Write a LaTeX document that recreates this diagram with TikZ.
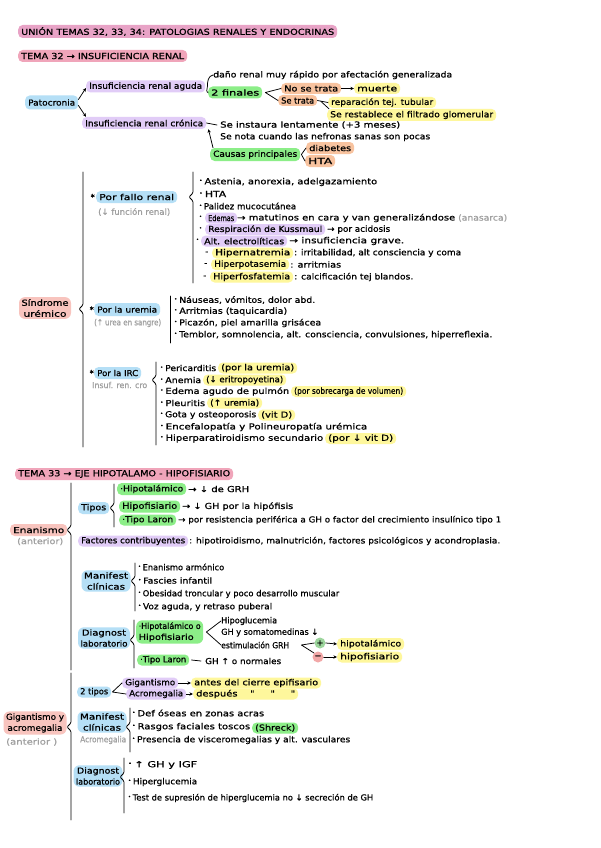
\documentclass[tikz,border=0pt]{standalone}
\usepackage{fontspec}
\usepackage{graphicx}
\usetikzlibrary{arrows.meta}
\newfontfamily\handf{DejaVu Sans}[FakeBold=0.8]
\newcommand\hfs{\handf\fontsize{8.3}{11}\selectfont}
\newlength\fitlen
\newcommand\fitx[2]{\settowidth\fitlen{#2}\pgfmathsetmacro\fitfac{#1/\fitlen}\scalebox{\fitfac}[1]{#2}}
\newcommand\bul{\raisebox{2.3pt}{\fontsize{4.5}{5}\selectfont •}\hspace{1.8pt}}
\newcommand\brc[4]{\draw[ln,rounded corners=1.2pt] (#1,#2) -- (#1,#3-4) -- (#1-4,#3) -- (#1,#3+4) -- (#1,#4);}
\definecolor{pkA}{HTML}{E8A3C6}
\definecolor{pkB}{HTML}{F0A5BA}
\definecolor{bl}{HTML}{B5DFF6}
\definecolor{pu}{HTML}{E1CCF7}
\definecolor{gr}{HTML}{8CEE88}
\definecolor{or}{HTML}{F8C39F}
\definecolor{ye}{HTML}{FEF79C}
\definecolor{sa}{HTML}{F8C4BE}
\definecolor{grayt}{HTML}{A0A0A0}
\definecolor{gcirc}{HTML}{9CD59C}
\definecolor{rcirc}{HTML}{F2A8A8}
\begin{document}
\begin{tikzpicture}[x=1pt,y=-1pt,
  tx/.style={anchor=west,inner sep=0pt,font=\hfs},
  gtx/.style={tx,text=grayt},
  hb/.style={anchor=west,fill=#1,rounded corners=4.5pt,inner xsep=3pt,inner ysep=0pt,minimum height=11pt,font=\hfs},
  hb2/.style={fill=#1,rounded corners=6pt,inner xsep=2.5pt,inner ysep=2pt,align=center,font=\hfs},
  ln/.style={line width=0.75pt,line cap=round,line join=round},
  arr/.style={ln,-{Stealth[length=3.6pt,width=3.4pt]}},
  circ/.style={circle,fill=#1,inner sep=0pt,minimum size=11pt,font=\hfs},
]
\useasboundingbox[fill=white] (0,0) rectangle (600,848);

% ---------- titles
\node[hb=pkA,minimum height=13pt] (t1) at (18,31.5) {\fitx{313}{UNIÓN TEMAS 32, 33, 34: PATOLOGIAS RENALES Y ENDOCRINAS}};
\node[hb=pkB,minimum height=12pt] (t2) at (18,56) {\fitx{163}{TEMA 32 → INSUFICIENCIA RENAL}};

% ---------- Insuficiencia renal
\node[hb=bl,minimum height=14pt] (pat) at (25,102.5) {\fitx{47}{Patocronia}};
\node[hb=pu,minimum height=12pt] (ira) at (86,86.5) {\fitx{113}{Insuficiencia renal aguda}};
\node[hb=pu,minimum height=12pt] (irc) at (82,123) {\fitx{118}{Insuficiencia renal crónica}};
\node[tx] (dano) at (213,75) {\fitx{239}{daño renal muy rápido por afectación generalizada}};
\node[hb=gr,minimum height=12pt] (dos) at (208,92.5) {\fitx{48}{2 finales}};
\node[hb=or] (nt) at (281,88.5) {\fitx{54}{No se trata}};
\node[hb=ye] (mu) at (354,88.5) {\fitx{40}{muerte}};
\node[hb=or] (st) at (278,100.5) {\fitx{33}{Se trata}};
\node[hb=ye] (rep) at (328,102.5) {\fitx{102}{reparación tej. tubular}};
\node[hb=ye,minimum height=12pt] (res) at (327,115) {\fitx{163}{Se restablece el filtrado glomerular}};
\node[tx] (inst) at (220,125) {\fitx{180}{Se instaura lentamente (+3 meses)}};
\node[tx] (nota) at (220,137) {\fitx{210}{Se nota cuando las nefronas sanas son pocas}};
\node[hb=gr,minimum height=13pt] (causas) at (210,154.5) {\fitx{84}{Causas principales}};
\node[hb=or,minimum height=12pt] (dia) at (306,148) {\fitx{42}{diabetes}};
\node[hb=or,minimum height=12pt] (hta) at (305,161) {\fitx{24}{HTA}};
\coordinate (stj) at (321,101.5);

\draw[arr] ([yshift=3pt]pat.east) -- ([yshift=-1.5pt]ira.west);
\draw[arr] ([yshift=-3pt]pat.east) -- ([xshift=4pt]irc.north west);
\draw[ln] (dano.west) to[out=190,in=90] ([xshift=2pt]ira.east) to[out=-90,in=170] (dos.west);
\draw[ln] (nt.west) -- ([xshift=3pt]dos.east) -- (st.west);
\draw[arr] (nt.east) -- (mu.west);
\draw[ln] (st.east) -- (rep.west);
\draw[ln] (stj) -- ([xshift=2pt]res.north west);
\draw[ln] (irc.east) -- ([xshift=-3pt]inst.west);
\draw[arr] ([xshift=3pt]causas.north west) -- ([xshift=2pt]irc.south east);
\draw[ln] (dia.west) -- ([xshift=1pt]causas.east) -- (hta.west);

% ---------- Sindrome uremico
\node[hb2=sa] (su) at (45,308) {\fitx{47}{Síndrome}\\\fitx{43}{urémico}};
\brc{83}{172}{309}{447}

\node[hb=bl,minimum height=12pt] (pfr) at (96,197) {\fitx{75}{Por fallo renal}};
\node[tx,anchor=east] (s1) at (95,197) {*};
\node[gtx] (pfrg) at (98,212) {\fitx{72}{(↓ función renal)}};
\brc{193}{172}{197}{283}
\node[tx] (i1) at (199,182) {\fitx{178}{\bul Astenia, anorexia, adelgazamiento}};
\node[tx] (i2) at (199,194) {\fitx{27}{\bul HTA}};
\node[tx] (i3) at (199,206) {\fitx{97}{\bul Palidez mucocutánea}};
\node[tx] (i4b) at (199,218) {\bul};
\node[hb=pu] (i4) at (205,218) {\fitx{26}{Edemas}};
\node[tx] (i4t) at (237,218) {\fitx{218}{→ matutinos en cara y van generalizándose}};
\node[gtx] (i4g) at (458,218) {\fitx{49}{(anasarca)}};
\node[tx] (i5b) at (199,229.5) {\bul};
\node[hb=pu] (i5) at (205,229.5) {\fitx{114}{Respiración de Kussmaul}};
\node[tx] (i5t) at (327,229.5) {\fitx{63}{→ por acidosis}};
\node[tx] (i6b) at (196,241) {\bul};
\node[hb=pu] (i6) at (201,241) {\fitx{80}{Alt. electrolíticas}};
\node[tx] (i6t) at (289,241) {\fitx{115}{→ insuficiencia grave.}};
\node[tx] (i7d) at (205,253) {-};
\node[hb=ye] (i7) at (212,253) {\fitx{75}{Hipernatremia}};
\node[tx] (i7t) at (294,253) {\fitx{167}{: irritabilidad, alt consciencia y coma}};
\node[tx] (i8d) at (204,264.5) {-};
\node[hb=ye] (i8) at (211,264.5) {\fitx{72}{Hiperpotasemia}};
\node[tx] (i8t) at (290,264.5) {\fitx{51}{: arritmias}};
\node[tx] (i9d) at (203,277) {-};
\node[hb=ye] (i9) at (210,277) {\fitx{77}{Hiperfosfatemia}};
\node[tx] (i9t) at (294,277) {\fitx{119}{: calcificación tej blandos.}};

\node[hb=bl,minimum height=13pt] (pu) at (94,309.5) {\fitx{60}{Por la uremia}};
\node[tx,anchor=east] (s2) at (94,309.5) {*};
\node[gtx] (pug) at (94,323) {\fitx{67}{(↑ urea en sangre)}};
\draw[ln] (170,296) -- (170,343);
\node[tx] (u1) at (174,300) {\fitx{141}{\bul Náuseas, vómitos, dolor abd.}};
\node[tx] (u2) at (174,311.5) {\fitx{113}{\bul Arritmias (taquicardia)}};
\node[tx] (u3) at (174,323) {\fitx{147}{\bul Picazón, piel amarilla grisácea}};
\node[tx] (u4) at (174,335) {\fitx{318}{\bul Temblor, somnolencia, alt. consciencia, convulsiones, hiperreflexia.}};

\node[hb=bl,minimum height=12pt] (pirc) at (94,373) {\fitx{41}{Por la IRC}};
\node[tx,anchor=east] (s3) at (94,373) {*};
\node[gtx] (pircg) at (92,385) {\fitx{55}{Insuf. ren. cro}};
\brc{156}{362}{380}{445}
\node[tx] (c1t) at (160,368) {\fitx{56}{\bul Pericarditis}};
\node[hb=ye] (c1y) at (218,368) {\fitx{73}{(por la uremia)}};
\node[tx] (c2t) at (160,380) {\fitx{41}{\bul Anemia}};
\node[hb=ye] (c2y) at (203,380) {\fitx{77}{(↓ eritropoyetina)}};
\node[tx] (c3t) at (160,391.5) {\fitx{129}{\bul Edema agudo de pulmón}};
\node[hb=ye] (c3y) at (291,391.5) {\fitx{109}{(por sobrecarga de volumen)}};
\node[tx] (c4t) at (160,403) {\fitx{45}{\bul Pleuritis}};
\node[hb=ye] (c4y) at (207,403) {\fitx{49}{(↑ uremia)}};
\node[tx] (c5t) at (160,415) {\fitx{96}{\bul Gota y osteoporosis}};
\node[hb=ye] (c5y) at (258,415) {\fitx{31}{(vit D)}};
\node[tx] (c6t) at (160,427) {\fitx{207}{\bul Encefalopatía y Polineuropatía urémica}};
\node[tx] (c7t) at (160,438.5) {\fitx{163}{\bul Hiperparatiroidismo secundario}};
\node[hb=ye] (c7y) at (325,438.5) {\fitx{65}{(por ↓ vit D)}};

% ---------- Tema 33
\node[hb=pkB,minimum height=12pt] (t33) at (15,474) {\fitx{212}{TEMA 33 → EJE HIPOTALAMO - HIPOFISIARIO}};
\node[hb=sa,minimum height=12pt] (en) at (10,530) {\fitx{51}{Enanismo}};
\node[gtx] (eng) at (17,541.5) {\fitx{46}{(anterior)}};
\brc{71}{483}{530}{670}

\node[hb=bl,minimum height=12pt] (tipos) at (78,508) {\fitx{25}{Tipos}};
\brc{114}{484}{508}{527}
\node[hb=gr,minimum height=12pt] (g1) at (117,489) {\fitx{63}{·Hipotalámico}};
\node[tx] (g1t) at (188,489) {\fitx{61}{→ ↓ de GRH}};
\node[hb=gr,minimum height=12pt] (g2) at (119,506.5) {\fitx{55}{Hipofisiario}};
\node[tx] (g2t) at (182,506.5) {\fitx{111}{→ ↓ GH por la hipófisis}};
\node[hb=gr] (g3) at (119,520) {\fitx{51}{·Tipo Laron}};
\node[tx] (g3t) at (178,520) {\fitx{323}{→ por resistencia periférica a GH o factor del crecimiento insulínico tipo 1}};

\node[hb=pu] (fc) at (78,541) {\fitx{104}{Factores contribuyentes}};
\node[tx] (fct) at (189,541) {\fitx{311}{: hipotiroidismo, malnutrición, factores psicológicos y acondroplasia.}};

\node[hb2=bl] (mc) at (106,581) {\fitx{44}{Manifest}\\\fitx{38}{clínicas}};
\brc{135}{563}{581}{611}
\node[tx] (m1) at (138,567) {\fitx{86}{\bul Enanismo armónico}};
\node[tx] (m2) at (138,580.5) {\fitx{74}{\bul Fascies infantil}};
\node[tx] (m3) at (138,594) {\fitx{201}{\bul Obesidad troncular y poco desarrollo muscular}};
\node[tx] (m4) at (138,607) {\fitx{134}{\bul Voz aguda, y retraso puberal}};

\node[hb2=bl] (dl) at (104,638) {\fitx{44}{Diagnost}\\\fitx{47}{laboratorio}};
\brc{134}{620}{640}{668}
\node[hb2=gr,align=left,anchor=west] (hh) at (136,632) {\fitx{62}{·Hipotalámico o}\\\fitx{55}{Hipofisiario}};
\node[tx] (hg) at (221,621) {\fitx{56}{Hipoglucemia}};
\node[tx] (gs) at (221,632.5) {\fitx{97}{GH y somatomedinas ↓}};
\node[tx] (eg) at (221,645) {\fitx{68}{estimulación GRH}};
\node[circ=gcirc] (plus) at (320,643) {+};
\node[circ=rcirc] (minus) at (318,657) {−};
\node[hb=ye,minimum height=12pt] (ht) at (337,644) {\fitx{61}{hipotalámico}};
\node[hb=ye] (hf) at (337,657) {\fitx{59}{hipofisiario}};
\node[hb=gr] (tl) at (137,660) {\fitx{46}{·Tipo Laron}};
\node[tx] (gh) at (205,661) {\fitx{76}{GH ↑ o normales}};

\draw[ln] (hg.west) -- ([xshift=3pt]hh.east) -- (eg.west);
\draw[ln] (plus.west) -- ([xshift=12pt]eg.east) -- (minus.north west);
\draw[arr] (plus.east) -- (ht.west);
\draw[arr] (minus.east) -- (hf.west);
\draw[ln] ([xshift=2pt]tl.east) -- ([xshift=-4pt]gh.west);

% ---------- Gigantismo
\node[hb2=sa] (ga) at (35,723) {\fitx{58}{Gigantismo y}\\\fitx{55}{acromegalia}};
\node[gtx] (gag) at (6,742) {\fitx{51}{(anterior )}};
\brc{71}{673}{727}{820}

\node[hb=bl] (dt) at (77,692) {\fitx{28}{2 tipos}};
\node[hb=pu] (gig) at (122,683) {\fitx{50}{Gigantismo}};
\node[hb=ye] (gigy) at (191,683) {\fitx{124}{antes del cierre epifisario}};
\node[hb=pu] (acro) at (126,694) {\fitx{54}{Acromegalia}};
\node[hb=ye] (acroy) at (193,694) {\fitx{99}{después\ \ \ \ "\ \ \ \ \ "\ \ \ \ \ "}};
\draw[ln] (gig.west) -- ([xshift=1pt]dt.east) -- (acro.west);
\draw[arr] (gig.east) -- (gigy.west);
\draw[arr] (acro.east) -- (acroy.west);

\node[hb2=bl] (mc2) at (102,722) {\fitx{44}{Manifest}\\\fitx{38}{clínicas}};
\node[gtx] (mc2g) at (80,740) {\fitx{46}{Acromegalia}};
\brc{130}{708}{727}{752}
\node[tx] (a1) at (132,713) {\fitx{132}{\bul Def óseas en zonas acras}};
\node[tx] (a2) at (132,727) {\fitx{118}{\bul Rasgos faciales toscos}};
\node[hb=gr] (a2g) at (252,728) {\fitx{40}{(Shreck)}};
\node[tx] (a3) at (132,740) {\fitx{218}{\bul Presencia de visceromegalias y alt. vasculares}};

\node[hb2=bl] (dl2) at (98,776) {\fitx{42}{Diagnost}\\\fitx{44}{laboratorio}};
\brc{124}{758}{777}{813}
\node[tx] (d1) at (128,765) {\fitx{69}{\bul ↑ GH y IGF}};
\node[tx] (d2) at (128,782) {\fitx{69}{\bul Hiperglucemia}};
\node[tx] (d3) at (128,798) {\fitx{245}{\bul Test de supresión de hiperglucemia no ↓ secreción de GH}};
\end{tikzpicture}
\end{document}
